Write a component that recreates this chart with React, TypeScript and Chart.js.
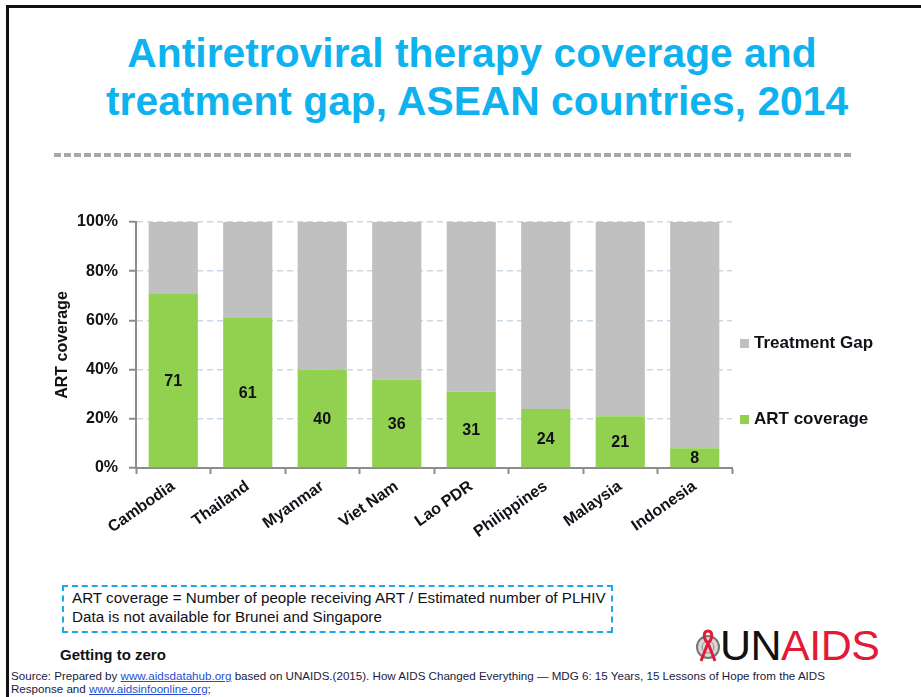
import React, { useEffect, useRef } from "react";
import { Chart, registerables } from "chart.js";

Chart.register(...registerables);

const categories = ["Cambodia", "Thailand", "Myanmar", "Viet Nam", "Lao PDR", "Philippines", "Malaysia", "Indonesia"];
const artCoverage = [71, 61, 40, 36, 31, 24, 21, 8];
const treatmentGap = [29, 39, 60, 64, 69, 76, 79, 92];
const seriesNames = ["ART coverage", "Treatment Gap"];
const seriesColors = ["#92d050", "#c0c0c0"];

const FONT = "'Liberation Sans', Arial, Helvetica, sans-serif";
const TEXT = "#111118";

const barLabels = {
  id: "barLabels",
  afterDatasetsDraw(chart: any) {
    const ctx = chart.ctx;
    const meta = chart.getDatasetMeta(0);
    ctx.save();
    ctx.font = `bold 16px ${FONT}`;
    ctx.fillStyle = TEXT;
    ctx.textAlign = "center";
    ctx.textBaseline = "middle";
    meta.data.forEach((el: any, i: number) => {
      const p = el.getProps(["x", "y", "base"], true);
      ctx.fillText(String(artCoverage[i]), p.x, (p.y + p.base) / 2 + 1);
    });
    ctx.restore();
  },
};

function ChartBox() {
  const ref = useRef<HTMLCanvasElement | null>(null);
  useEffect(() => {
    if (!ref.current) return;
    const chart = new Chart(ref.current, {
      type: "bar",
      data: {
        labels: categories,
        datasets: [
          { label: seriesNames[0], data: artCoverage, backgroundColor: seriesColors[0], stack: "s", categoryPercentage: 1, barPercentage: 0.66 },
          { label: seriesNames[1], data: treatmentGap, backgroundColor: seriesColors[1], stack: "s", categoryPercentage: 1, barPercentage: 0.66 },
        ],
      },
      options: {
        responsive: false,
        animation: false,
        layout: { padding: { top: 22, right: 28, left: 0, bottom: 0 } },
        plugins: { legend: { display: false }, tooltip: { enabled: false } },
        scales: {
          x: {
            stacked: true,
            grid: { offset: true, drawOnChartArea: false, drawTicks: true, tickLength: 6, tickColor: "#8c8c8c", tickWidth: 2 },
            border: { color: "#8c8c8c", width: 2 },
            ticks: { font: { family: FONT, size: 16, weight: "bold" }, color: TEXT, minRotation: 35, maxRotation: 35, padding: 3, autoSkip: false },
            afterFit: (s: any) => { s.height = 92; },
          },
          y: {
            stacked: true,
            min: 0,
            max: 100,
            ticks: { stepSize: 20, callback: (v: any) => v + "%", font: { family: FONT, size: 16, weight: "bold" }, color: TEXT, padding: 11 },
            grid: { color: "#c9d9e8", lineWidth: 1.5, tickColor: "#8c8c8c", tickLength: 7, tickWidth: 2 },
            border: { color: "#8c8c8c", width: 2, dash: [6, 4] },
            title: { display: true, text: "ART coverage", font: { family: FONT, size: 16, weight: "bold" }, color: TEXT, padding: { top: 53, bottom: 0 } },
            afterFit: (s: any) => { s.width = 136; },
          },
        },
      },
      plugins: [barLabels],
    } as any);
    return () => chart.destroy();
  }, []);
  return <canvas ref={ref} width={760} height={360} style={{ width: 760, height: 360, display: "block" }} />;
}

export default function App() {
  const abs = (s: React.CSSProperties): React.CSSProperties => ({ position: "absolute", ...s });
  return (
    <div style={{ position: "fixed", left: 0, top: 0, width: 921, height: 697, background: "#fff", fontFamily: FONT, overflow: "hidden" }}>
      <div style={abs({ left: 6, top: 5, width: 930, height: 700, borderLeft: "3px solid #111", borderTop: "3px solid #111" })} />
      <div
        style={abs({
          left: 0, top: 29, width: 944, textAlign: "center", color: "#0db2ef", fontWeight: "bold", fontSize: 40, lineHeight: "48px",
          transform: "scaleX(1.02)", transformOrigin: "472px 0", whiteSpace: "nowrap",
        })}
      >
        <div>Antiretroviral therapy coverage and</div>
        <div style={{ paddingLeft: 10 }}>treatment gap, ASEAN countries, 2014</div>
      </div>
      <div style={abs({ left: 54, top: 153, width: 798, height: 4, background: "repeating-linear-gradient(90deg, #a8a8a8 0 7px, transparent 7px 10px)" })} />
      <div style={abs({ left: 0, top: 200 })}>
        <ChartBox />
      </div>
      <div style={abs({ left: 740, top: 330, fontSize: 17, fontWeight: "bold", color: TEXT })}>
        <div style={{ display: "flex", alignItems: "center", height: 26 }}>
          <span style={{ width: 9, height: 9, background: seriesColors[1], marginRight: 5, display: "inline-block" }} />
          {seriesNames[1]}
        </div>
        <div style={{ display: "flex", alignItems: "center", height: 26, marginTop: 50 }}>
          <span style={{ width: 9, height: 9, background: seriesColors[0], marginRight: 5, display: "inline-block" }} />
          {seriesNames[0]}
        </div>
      </div>
      <div style={abs({ left: 62, top: 585, width: 539, height: 43, border: "2px dashed #1aa8e8", fontSize: 15.2, color: TEXT, lineHeight: "19px", padding: "1px 0 0 8px", whiteSpace: "nowrap" })}>
        <div>ART coverage = Number of people receiving ART / Estimated number of PLHIV</div>
        <div>Data is not available for Brunei and Singapore</div>
      </div>
      <div style={abs({ left: 60, top: 646, fontSize: 15, fontWeight: "bold", color: TEXT })}>Getting to zero</div>
      <svg style={abs({ left: 695, top: 627 })} width={26} height={38} viewBox="0 0 26 38">
        <circle cx={13} cy={20} r={11} fill="#d8d8d8" stroke="#777" strokeWidth={2} />
        <circle cx={13} cy={20} r={6} fill="none" stroke="#888" strokeWidth={1} />
        <path d="M13 4 C8 4 8 12 13 16 C18 12 18 4 13 4 Z M13 16 L6 34 M13 16 L20 34" fill="none" stroke="#e31937" strokeWidth={3} />
      </svg>
      <div style={abs({ left: 720, top: 621, fontSize: 43, lineHeight: "48px", letterSpacing: -0.5, whiteSpace: "nowrap" })}>
        <span style={{ color: "#111" }}>UN</span>
        <span style={{ color: "#e31937" }}>AIDS</span>
      </div>
      <div style={abs({ left: 11, top: 669, fontSize: 11.6, lineHeight: "13px", color: "#1a1a40", whiteSpace: "nowrap" })}>
        <div>
          Source: Prepared by <span style={{ color: "#1f4fd0", textDecoration: "underline" }}>www.aidsdatahub.org</span> based on UNAIDS.(2015). How AIDS Changed Everything — MDG 6: 15 Years, 15 Lessons of Hope from the AIDS
        </div>
        <div>
          Response and <span style={{ color: "#1f4fd0", textDecoration: "underline" }}>www.aidsinfoonline.org</span>;
        </div>
      </div>
    </div>
  );
}
